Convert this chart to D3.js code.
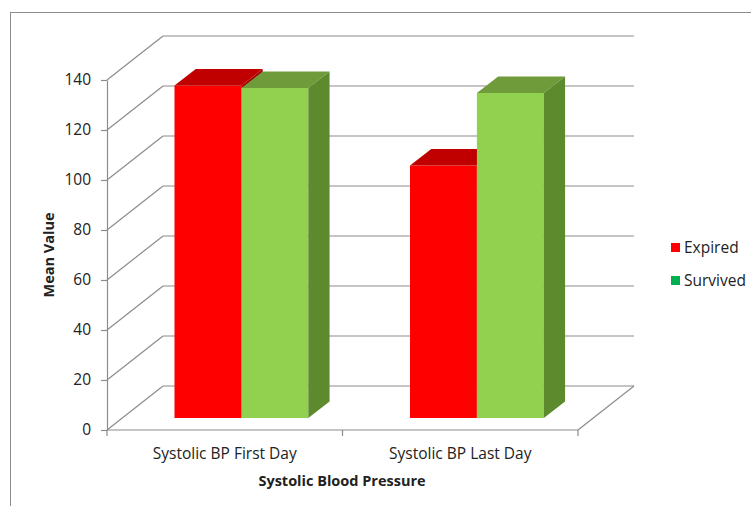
<!DOCTYPE html>
<html>
<head>
<meta charset="utf-8">
<script src="https://cdnjs.cloudflare.com/ajax/libs/d3/7.8.5/d3.min.js"></script>
<style>
  body { margin: 0; background: #fff; }
  text { font-family: "Open Sans", "Noto Sans", sans-serif; fill: #222; }
</style>
</head>
<body>
<div id="chart"></div>
<script>
// data
var categories = ["Systolic BP First Day", "Systolic BP Last Day"];
var seriesNames = ["Expired", "Survived"];
var expired = [133, 101];
var survived = [132, 130];
var yTicks = [0, 20, 40, 60, 80, 100, 120, 140];

var W = 751, H = 506;
var svg = d3.select('#chart').append('svg')
    .attr("width", W)
    .attr("height", H);

// outer chart border (right / bottom edges are off the picture)
svg.append("rect")
    .attr("x", 10.5).attr("y", 12.5)
    .attr("width", 780).attr("height", 520)
    .attr("fill", "none")
    .attr("stroke", "#8c8c8c");

// plot frame: front axis and depth offset of the 3d box
var plotLeft = 107, plotRight = 578, plotBottom = 430, plotTop = 80;
var depth = { dx: 56, dy: -44 };
var barDepth = [0.27, 0.65]; // bars sit in the middle of the box depth

var y = d3.scaleLinear().domain([0, 140]).range([plotBottom, plotTop]);
var x = d3.scaleBand().domain(categories).range([plotLeft, plotRight]);
var xs = d3.scaleBand().domain(seriesNames).range([0, x.bandwidth()])
    .paddingInner(0).paddingOuter(0.76).align(0.515);

var colors = {
    Expired: { front: "#ff0000", top: "#c00000", side: "#a80000" },
    Survived: { front: "#92d050", top: "#6f9b3b", side: "#5e8a2e" }
};
var legendColors = { Expired: "#ff0000", Survived: "#00b050" };

var gridColor = "#8c8c8c";
var fontSize = "15.5px";
var titleSize = "14.5px";

// back wall gridlines + left wall diagonals
var grid = svg.append("g").attr("stroke", gridColor).attr("stroke-width", 1.2).attr("fill", "none");
grid.selectAll("line.back")
    .data(yTicks)
    .enter().append("line")
    .attr("x1", plotLeft + depth.dx).attr("x2", plotRight + depth.dx)
    .attr("y1", d => y(d) + depth.dy).attr("y2", d => y(d) + depth.dy);
grid.selectAll("line.side")
    .data(yTicks)
    .enter().append("line")
    .attr("x1", plotLeft).attr("x2", plotLeft + depth.dx)
    .attr("y1", d => y(d)).attr("y2", d => y(d) + depth.dy);
// floor right edge
grid.append("line")
    .attr("x1", plotRight).attr("y1", y(0))
    .attr("x2", plotRight + depth.dx).attr("y2", y(0) + depth.dy);

// bars
function pt(px, py) { return px + "," + py; }
var bars = [];
categories.forEach(function(c, i) {
    bars.push({ cat: c, s: "Expired", v: expired[i] });
    bars.push({ cat: c, s: "Survived", v: survived[i] });
});

var barG = svg.append("g");
bars.forEach(function(b) {
    var ox0 = depth.dx * barDepth[0], oy0 = depth.dy * barDepth[0];
    var ox1 = depth.dx * barDepth[1], oy1 = depth.dy * barDepth[1];
    var x0 = x(b.cat) + xs(b.s) + ox0, x1 = x0 + xs.bandwidth();
    var yb = y(0) + oy0, yt = y(b.v) + oy0;
    var dx = ox1 - ox0, dy = oy1 - oy0;
    var col = colors[b.s];
    var g = barG.append("g");
    g.append("polygon")
        .attr("points", [pt(x0, yb), pt(x1, yb), pt(x1, yt), pt(x0, yt)].join(" "))
        .attr("fill", col.front);
    g.append("polygon")
        .attr("points", [pt(x0, yt), pt(x1, yt), pt(x1 + dx, yt + dy), pt(x0 + dx, yt + dy)].join(" "))
        .attr("fill", col.top);
    g.append("polygon")
        .attr("points", [pt(x1, yt), pt(x1 + dx, yt + dy), pt(x1 + dx, yb + dy), pt(x1, yb)].join(" "))
        .attr("fill", col.side);
});

// y axis
var yAxis = svg.append("g")
    .attr("transform", "translate(" + plotLeft + ",0)")
    .call(d3.axisLeft(y).tickValues(yTicks).tickSize(6).tickSizeOuter(0).tickPadding(10));
yAxis.select(".domain").attr("stroke", gridColor).attr("stroke-width", 1.2);
yAxis.selectAll(".tick line").attr("stroke", gridColor).attr("stroke-width", 1.2);
yAxis.selectAll(".tick text")
    .attr("font-family", "Open Sans, sans-serif")
    .attr("font-size", fontSize)
    .attr("fill", "#222");

// x axis
var xAxis = svg.append("g");
xAxis.append("line")
    .attr("x1", plotLeft).attr("x2", plotRight)
    .attr("y1", y(0)).attr("y2", y(0))
    .attr("stroke", gridColor).attr("stroke-width", 1.2);
var bounds = x.domain().map(d => x(d)).concat([plotRight]);
xAxis.selectAll("line.tick")
    .data(bounds)
    .enter().append("line")
    .attr("x1", d => d).attr("x2", d => d)
    .attr("y1", y(0)).attr("y2", y(0) + 6)
    .attr("stroke", gridColor).attr("stroke-width", 1.2);
xAxis.selectAll("text")
    .data(categories)
    .enter().append("text")
    .attr("x", d => x(d) + x.bandwidth() / 2)
    .attr("y", 459)
    .attr("text-anchor", "middle")
    .attr("font-size", fontSize)
    .text(d => d);

// axis titles
svg.append("text")
    .attr("transform", "translate(54,255) rotate(-90)")
    .attr("text-anchor", "middle")
    .attr("font-size", titleSize)
    .attr("font-weight", "bold")
    .text("Mean Value");
svg.append("text")
    .attr("x", 342).attr("y", 486)
    .attr("text-anchor", "middle")
    .attr("font-size", titleSize)
    .attr("font-weight", "bold")
    .text("Systolic Blood Pressure");

// legend
var legend = svg.append("g")
    .selectAll("g")
    .data(seriesNames)
    .enter().append("g")
    .attr("transform", (d, i) => "translate(671," + (243 + i * 33) + ")");
legend.append("rect")
    .attr("width", 9).attr("height", 9)
    .attr("fill", d => legendColors[d]);
legend.append("text")
    .attr("x", 13).attr("y", 9.5)
    .attr("font-size", fontSize)
    .text(d => d);
</script>
</body>
</html>
